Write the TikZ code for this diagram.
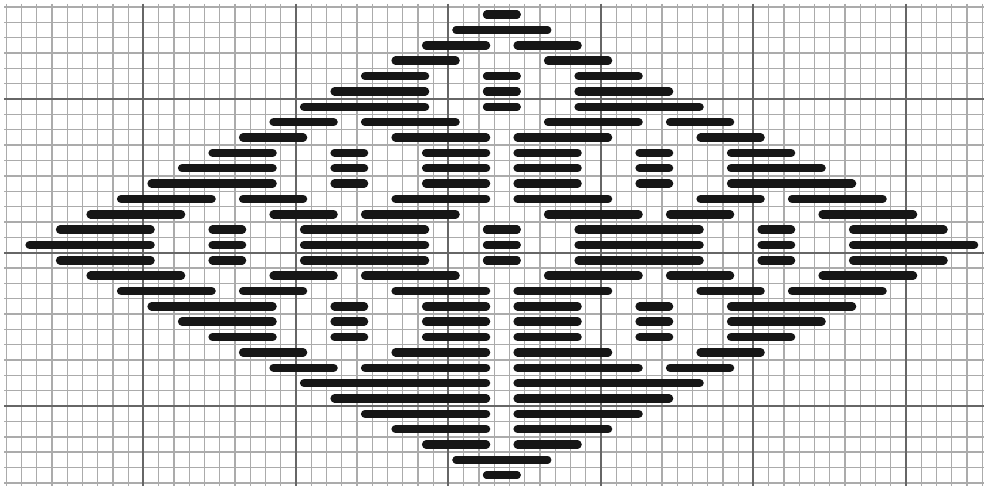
\documentclass[tikz,border=0pt]{standalone}
\definecolor{minorgrid}{HTML}{ABABAB}
\definecolor{majorgrid}{HTML}{666666}
\definecolor{barcol}{HTML}{161616}
\tikzset{
  minorline/.style={draw=minorgrid, line width=1.4pt},
  majorline/.style={draw=majorgrid, line width=2pt},
  stitchbar/.style={draw=barcol, line width=8.5pt, line cap=round}
}
\begin{document}
\begin{tikzpicture}[x=1pt,y=-1pt]
\useasboundingbox[fill=white] (0,0) rectangle (984,489);
% minor grid
\foreach \k in {0,...,64}{
  \draw[minorline] ({6.2+15.25*\k},4) -- ({6.2+15.25*\k},486);
}
\foreach \j in {0,...,31}{
  \draw[minorline] (4,{7+15.35*\j}) -- (984,{7+15.35*\j});
}
% major grid
\foreach \k in {9,19,29,39,49,59}{
  \draw[majorline] ({6.2+15.25*\k},4) -- ({6.2+15.25*\k},486);
}
\foreach \j in {6,16,26}{
  \draw[majorline] (4,{7+15.35*\j}) -- (984,{7+15.35*\j});
}
% stitches (left half, mirrored about the centre column)
\foreach \r/\a/\b in {
 0/31/34, 1/29/36, 2/27/32, 3/25/30,
 4/23/28, 4/31/34, 5/21/28, 5/31/34, 6/19/28, 6/31/34,
 7/17/22, 7/23/30, 8/15/20, 8/25/32,
 9/13/18, 9/21/24, 9/27/32, 10/11/18, 10/21/24, 10/27/32,
 11/9/18, 11/21/24, 11/27/32, 12/7/14, 12/15/20, 12/25/32,
 13/5/12, 13/17/22, 13/23/30,
 14/3/10, 14/13/16, 14/19/28, 14/31/34,
 15/1/10, 15/13/16, 15/19/28, 15/31/34,
 16/3/10, 16/13/16, 16/19/28, 16/31/34,
 17/5/12, 17/17/22, 17/23/30, 18/7/14, 18/15/20, 18/25/32,
 19/9/18, 19/21/24, 19/27/32, 20/11/18, 20/21/24, 20/27/32,
 21/13/18, 21/21/24, 21/27/32, 22/15/20, 22/25/32,
 23/17/22, 23/23/32, 24/19/32, 25/21/32, 26/23/32, 27/25/32,
 28/27/32, 29/29/36, 30/31/34}{
  \draw[stitchbar] ({6.2+15.25*\a+8.2},{14.7+15.35*\r}) -- ({6.2+15.25*\b-8.2},{14.7+15.35*\r});
  \draw[stitchbar] ({6.2+15.25*(65-\b)+8.2},{14.7+15.35*\r}) -- ({6.2+15.25*(65-\a)-8.2},{14.7+15.35*\r});
}
\end{tikzpicture}
\end{document}
